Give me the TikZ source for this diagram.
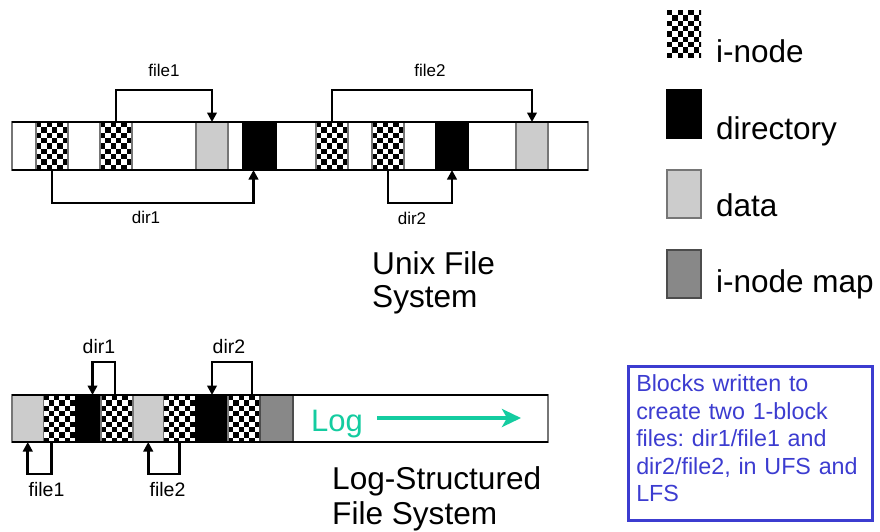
\documentclass[tikz,border=0pt]{standalone}
\usepackage{fontspec}
\setmainfont{Liberation Sans}
\usetikzlibrary{arrows.meta,calc}
\definecolor{dgrey}{RGB}{118,118,118}
\definecolor{lgrey}{RGB}{204,204,204}
\definecolor{mapgrey}{RGB}{136,136,136}
\definecolor{tealc}{RGB}{20,204,160}
\definecolor{boxblue}{RGB}{60,60,208}
\tikzset{
  blk/.style={draw=dgrey, line width=1.2pt, inner sep=0pt, outer sep=0pt},
  checker/.style={blk, fill=white, path picture={
      \foreach \i in {0,...,6} \foreach \j in {0,...,9} {
        \pgfmathtruncatemacro\kk{mod(\i+\j,2)}
        \ifnum\kk=0
          \fill[black] ([xshift={\i*5.33pt}, yshift={-\j*5.33pt}]path picture bounding box.north west) rectangle ++(5.33pt,-5.33pt);
        \fi
      }}},
  dirblk/.style={blk, fill=black, draw=black},
  datablk/.style={blk, fill=lgrey},
  mapblk/.style={blk, fill=mapgrey, draw=black!70},
  barbox/.style={blk, fill=white},
  conn/.style={line width=2.6pt, -{Triangle[length=9.5pt,width=9.5pt]}},
  toplbl/.style={font=\fontsize{17}{20}\selectfont, inner sep=0pt},
  botlbl/.style={font=\fontsize{19.5}{22}\selectfont, inner sep=0pt},
  bigtxt/.style={font=\fontsize{31.6}{36}\selectfont, inner sep=0pt, anchor=base west},
  legtxt/.style={font=\fontsize{31.5}{36}\selectfont, inner sep=0pt, anchor=base west},
}
\newcommand\blockat[6]{%
  \node[#2, minimum width={(#4-#3)*1pt}, minimum height={(#6-#5)*1pt}] (#1) at ({(#3+#4)/2},{(#5+#6)/2}) {};}
\begin{document}
\begin{tikzpicture}[x=1pt,y=-1pt]
\useasboundingbox (0,0) rectangle (880,531);

% ---------- Unix file system bar ----------
\blockat{ubar}{barbox}{12}{588}{122}{170}
\blockat{c1}{checker}{36}{68}{122}{170}
\blockat{c2}{checker}{100}{132}{122}{170}
\blockat{d1}{datablk}{196}{228}{122}{170}
\blockat{b1}{dirblk}{243}{276}{122}{170}
\blockat{c3}{checker}{316}{348}{122}{170}
\blockat{c4}{checker}{372}{404}{122}{170}
\blockat{b2}{dirblk}{436}{468}{122}{170}
\blockat{d2}{datablk}{516}{548}{122}{170}
\draw[line width=1.5pt] (ubar.north west) -- (ubar.north east);
\draw[line width=1.5pt] (ubar.south west) -- (ubar.south east);

\draw[conn] (c2.north) -- (c2.north |- 0,90) -| (d1.north);
\draw[conn] (c1.south) -- (c1.south |- 0,203) -| ([xshift=-6pt]b1.south);
\draw[conn] (c3.north) -- (c3.north |- 0,90) -| (d2.north);
\draw[conn] (c4.south) -- (c4.south |- 0,203) -| (b2.south);

\node[toplbl] (tf1) at (164,70) {file1};
\node[toplbl] (tf2) at (430,70) {file2};
\node[toplbl] (td1) at (146,217) {dir1};
\node[toplbl] (td2) at (412,218) {dir2};

\node[bigtxt] (ufs1) at (372,274) {Unix File};
\node[bigtxt] (ufs2) at (372,307) {System};

% ---------- Log-structured bar ----------
\blockat{lbar}{barbox}{12}{548}{395}{442}
\blockat{ld1}{datablk}{12}{43.5}{395}{442}
\blockat{lc1}{checker}{43.5}{76}{395}{442}
\blockat{lb1}{dirblk}{76}{101}{395}{442}
\blockat{lc2}{checker}{101}{133}{395}{442}
\blockat{ld2}{datablk}{133}{163.5}{395}{442}
\blockat{lc3}{checker}{163.5}{196}{395}{442}
\blockat{lb2}{dirblk}{196}{228}{395}{442}
\blockat{lc4}{checker}{228}{260}{395}{442}
\blockat{lm}{mapblk}{260}{293}{395}{442}
\draw[line width=1.5pt] (lbar.north west) -- (lbar.north east);
\draw[line width=1.5pt] (lbar.south west) -- (lbar.south east);

\draw[conn] ([xshift=-2pt]lc2.north) -- ([xshift=-2pt]lc2.north |- 0,362) -| ([xshift=4pt]lb1.north);
\draw[conn] ([xshift=8pt]lc4.north) -- ([xshift=8pt]lc4.north |- 0,362) -| (lb2.north);
\draw[conn] ([xshift=-8pt]lc1.south) -- ([xshift=-8pt]lc1.south |- 0,474) -| (ld1.south);
\draw[conn] (lc3.south) -- (lc3.south |- 0,474) -| (ld2.south);

\node[botlbl] (bd1) at (99,347) {dir1};
\node[botlbl] (bd2) at (229,347) {dir2};
\node[botlbl] (bf1) at (46.5,490) {file1};
\node[botlbl] (bf2) at (167.5,490) {file2};

\node[font=\fontsize{31}{36}\selectfont, text=tealc, anchor=base, inner sep=0pt] (logt) at (337,431) {Log};
\coordinate (logs) at (377,418);
\coordinate (loge) at (521,418);
\draw[tealc, line width=4pt, -{Stealth[length=19pt,width=18pt,inset=5pt]}] (logs) -- (loge);

\node[bigtxt] (lfs1) at (332,489) {Log-Structured};
\node[bigtxt] (lfs2) at (332,524) {File System};

% ---------- Legend ----------
\blockat{kc}{checker, draw=none}{667}{701}{10}{57}
\blockat{kd}{dirblk}{667}{701}{90}{138}
\blockat{kda}{datablk}{667}{701}{170}{218}
\blockat{km}{mapblk}{667}{701}{250}{298}
\node[legtxt] (kt1) at (716,62) {i-node};
\node[legtxt] (kt2) at (716,139) {directory};
\node[legtxt] (kt3) at (716,216) {data};
\node[legtxt] (kt4) at (716,292) {i-node map};

% ---------- Note ----------
\node[anchor=north west, draw=boxblue, line width=2.5pt, text=boxblue,
      minimum width=244pt, minimum height=154pt, text width=228pt,
      inner xsep=8pt, inner ysep=5pt, align=left,
      font=\fontsize{23.3}{27.6}\selectfont\frenchspacing] (note) at (627,365)
  {Blocks written to\\create two 1-block\\files: dir1/file1 and\\dir2/file2, in UFS and\\LFS\rule[-10pt]{0pt}{10pt}};
\end{tikzpicture}
\end{document}
